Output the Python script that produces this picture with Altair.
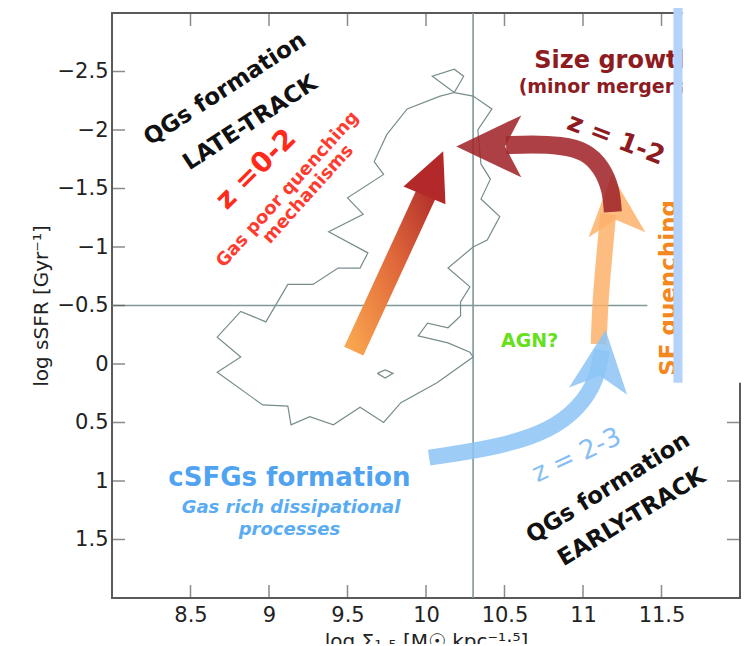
import altair as alt
import pandas as pd

# ---------------- axes ----------------
x_domain = [8, 12]
y_domain = [-3, 2]
x_ticks = [8.5, 9, 9.5, 10, 10.5, 11, 11.5]
y_ticks = [-2.5, -2, -1.5, -1, -0.5, 0, 0.5, 1, 1.5]

# ---------------- contour of the galaxy distribution ----------------
contour_x = [10.18, 10.30, 10.42, 10.33, 10.35, 10.41, 10.35, 10.47, 10.39, 10.30,
             10.14, 10.28, 10.22, 10.22, 10.14, 10.01, 9.95, 10.14, 10.28, 10.30,
             10.07, 9.84, 9.73, 9.58, 9.41, 9.26, 9.14, 9.12, 8.96, 8.67,
             8.82, 8.67, 8.82, 8.98, 9.12, 9.28, 9.44, 9.58, 9.63, 9.38,
             9.60, 9.50, 9.73, 9.67, 9.75, 9.88, 10.09, 10.18, 10.24, 10.18,
             10.04, 10.18]
contour_y = [-2.32, -2.29, -2.18, -2.00, -1.71, -1.58, -1.41, -1.26, -1.06, -1.00,
             -0.82, -0.66, -0.53, -0.41, -0.31, -0.35, -0.24, -0.18, -0.10, -0.06,
             0.16, 0.33, 0.50, 0.37, 0.52, 0.45, 0.52, 0.36, 0.35, 0.07,
             -0.06, -0.23, -0.45, -0.36, -0.68, -0.68, -0.82, -0.82, -0.95, -1.13,
             -1.28, -1.42, -1.62, -1.73, -1.96, -2.18, -2.29, -2.32, -2.46, -2.52,
             -2.46, -2.32]
island_x = [9.69, 9.74, 9.79, 9.74, 9.69]
island_y = [0.08, 0.05, 0.08, 0.12, 0.08]

# ---------------- reference lines ----------------
vline_x = [10.3]
hline_y = [-0.5]
hline_x = [8.0, 11.41]

# ---------------- arrows ----------------
# late-track (straight, orange -> red)
arrow_a_x = [9.54, 10.02]
arrow_a_y = [-0.11, -1.51]
head_a = [10.05, -1.63]
# size growth (dark red, curved)
arrow_b_x = [11.19, 11.18, 11.12, 11.02, 10.86, 10.67, 10.51]
arrow_b_y = [-1.30, -1.49, -1.68, -1.82, -1.87, -1.88, -1.87]
head_b = [10.40, -1.86]
# SF quenching (light orange)
arrow_c_x = [11.10, 11.11, 11.14, 11.16]
arrow_c_y = [-0.17, -0.55, -0.98, -1.28]
head_c = [11.20, -1.36]
# cSFG formation (light blue, curved)
arrow_d_x = [10.02, 10.47, 10.79, 10.98, 11.09, 11.12]
arrow_d_y = [0.80, 0.71, 0.57, 0.37, 0.13, -0.12]
head_d = [11.12, -0.03]

# ---------------- annotations ----------------
ann_text = ["QGs formation", "LATE-TRACK", "z =0-2", "Gas poor quenching", "mechanisms",
            "Size growth", "(minor mergers)", "z = 1-2", "SF quenching", "AGN?",
            "cSFGs formation", "Gas rich dissipational", "processes", "z = 2-3",
            "QGs formation", "EARLY-TRACK"]
ann_x = [8.72, 8.88, 8.92, 9.12, 9.25,
         10.69, 10.59, 11.21, 11.595, 10.66,
         9.13, 9.14, 9.13, 10.96,
         11.16, 11.31]
ann_y = [-2.35, -2.06, -1.66, -1.49, -1.45,
         -2.53, -2.32, -1.92, -0.65, -0.20,
         1.04, 1.27, 1.46, 0.78,
         1.06, 1.31]

# overlay (covering panel at the top right)
overlay_bar_x = [11.576, 11.634]
overlay_box_x = [11.634, 12.10]
overlay_y = [-3.10, 0.16]

# ================= build chart =================
W, H = 628, 585
xs = alt.Scale(domain=x_domain, nice=False, zero=False)
ys = alt.Scale(domain=y_domain, nice=False, zero=False, reverse=True)
FONT = "DejaVu Sans"

contour_df = pd.DataFrame({
    "x": contour_x + island_x,
    "y": contour_y + island_y,
    "i": list(range(len(contour_x))) + list(range(len(island_x))),
    "g": ["main"] * len(contour_x) + ["island"] * len(island_x),
})

base_axes = alt.Chart(pd.DataFrame({"x": x_domain, "y": y_domain})).mark_point(opacity=0).encode(
    x=alt.X("x:Q", scale=xs, axis=alt.Axis(
        values=x_ticks, format="~g", grid=False, ticks=False, tickSize=0, domain=False,
        labelFont=FONT, labelFontSize=21, labelColor="#222", labelPadding=6,
        title="log Σ₁.₅ [M☉ kpc⁻¹·⁵]", titleFont=FONT, titleFontSize=20,
        titleFontWeight="normal", titleColor="#222", titlePadding=6)),
    y=alt.Y("y:Q", scale=ys, axis=alt.Axis(
        values=y_ticks, format="~g", grid=False, ticks=False, tickSize=0, domain=False,
        labelFont=FONT, labelFontSize=21, labelColor="#222", labelPadding=4,
        title="log sSFR [Gyr⁻¹]", titleFont=FONT, titleFontSize=20,
        titleFontWeight="normal", titleColor="#222", titlePadding=6)),
)

line_col = "#7f9898"
vline = alt.Chart(pd.DataFrame({"x": vline_x, "y": [y_domain[0]], "y2": [y_domain[1]]})).mark_rule(
    color=line_col, strokeWidth=1.6).encode(
    x=alt.X("x:Q", scale=xs), y=alt.Y("y:Q", scale=ys), y2="y2:Q")
hline = alt.Chart(pd.DataFrame({"y": hline_y, "x": [hline_x[0]], "x2": [hline_x[1]]})).mark_rule(
    color=line_col, strokeWidth=1.6).encode(
    y=alt.Y("y:Q", scale=ys), x=alt.X("x:Q", scale=xs), x2="x2:Q")

contour = alt.Chart(contour_df).mark_line(color="#788c8c", strokeWidth=1.2).encode(
    x=alt.X("x:Q", scale=xs), y=alt.Y("y:Q", scale=ys),
    detail="g:N", order=alt.Order("i:Q"))

HEAD = "M0,-1L0.95,1L0,0.5L-0.95,1Z"
TRI = "M0,-1L0.95,1L-0.95,1Z"


def shaft(xv, yv, width, opacity=1.0, color=None, stroke=None, interp="basis"):
    df = pd.DataFrame({"x": xv, "y": yv, "i": list(range(len(xv)))})
    kw = dict(strokeWidth=width, strokeCap="butt", opacity=opacity, interpolate=interp)
    if stroke is not None:
        kw["stroke"] = stroke
    else:
        kw["color"] = color
    return alt.Chart(df).mark_line(**kw).encode(
        x=alt.X("x:Q", scale=xs), y=alt.Y("y:Q", scale=ys), order=alt.Order("i:Q"))


def head(pt, shape, size, angle, color, opacity=1.0):
    df = pd.DataFrame({"x": [pt[0]], "y": [pt[1]]})
    return alt.Chart(df).mark_point(shape=shape, size=size, angle=angle, filled=True,
                                    color=color, opacity=opacity, strokeWidth=0).encode(
        x=alt.X("x:Q", scale=xs), y=alt.Y("y:Q", scale=ys))


grad_a = alt.Gradient(
    gradient="linear",
    stops=[alt.GradientStop(color="#f9a44e", offset=0),
           alt.GradientStop(color="#e0683a", offset=0.55),
           alt.GradientStop(color="#b3302c", offset=1)],
    x1=0, y1=1, x2=1, y2=0)

arrow_d = shaft(arrow_d_x, arrow_d_y, 16, 0.85, color="#8cc4f6")
arrow_c = shaft(arrow_c_x, arrow_c_y, 16, 0.85, color="#fdb26b")
head_c_l = head(head_c, HEAD, 3600, 355, "#fdb26b", 0.85)
head_d_l = head(head_d, HEAD, 3800, 7, "#8cc4f6", 0.85)
arrow_b = shaft(arrow_b_x, arrow_b_y, 18, 0.88, color="#a0262a")
head_b_l = head(head_b, HEAD, 4225, 270, "#a0262a", 0.88)
arrow_a = shaft(arrow_a_x, arrow_a_y, 21, 1.0, stroke=grad_a, interp="linear")
head_a_l = head(head_a, TRI, 2304, 23, "#b3292a", 1.0)

# annotation styles: (size, angle, color, weight, style, align, baseline)
ann_style = [
    (23, 327, "#111111", "bold", "normal", "center", "middle"),
    (23, 327, "#111111", "bold", "normal", "center", "middle"),
    (28, 315, "#ff2a1a", "bold", "normal", "center", "middle"),
    (18, 312, "#ff3b30", "bold", "normal", "center", "middle"),
    (18, 312, "#ff3b30", "bold", "normal", "center", "middle"),
    (24, 0, "#8e1b1f", "bold", "normal", "left", "alphabetic"),
    (19, 0, "#8e1b1f", "bold", "normal", "left", "alphabetic"),
    (26, 21, "#8e1b1f", "bold", "normal", "center", "middle"),
    (23, 270, "#f5871f", "bold", "normal", "center", "alphabetic"),
    (19, 0, "#66e01c", "bold", "normal", "center", "middle"),
    (26, 0, "#4fa3f0", "bold", "normal", "center", "alphabetic"),
    (18, 0, "#5aacf2", "bold", "italic", "center", "alphabetic"),
    (18, 0, "#5aacf2", "bold", "italic", "center", "alphabetic"),
    (26, 335, "#86bdf2", "normal", "normal", "center", "middle"),
    (23, 328, "#111111", "bold", "normal", "center", "middle"),
    (23, 329, "#111111", "bold", "normal", "center", "middle"),
]

texts = []
for t, xv, yv, st in zip(ann_text, ann_x, ann_y, ann_style):
    size, ang, col, wt, fs, al, bl = st
    df = pd.DataFrame({"x": [xv], "y": [yv], "t": [t]})
    texts.append(alt.Chart(df).mark_text(
        font=FONT, fontSize=size, angle=ang, color=col, fontWeight=wt, fontStyle=fs,
        align=al, baseline=bl).encode(
        x=alt.X("x:Q", scale=xs), y=alt.Y("y:Q", scale=ys), text="t:N"))

# inward ticks on all four sides
tick_col = "#5a5a5a"
xt_df = pd.DataFrame({"v": x_ticks})
yt_df = pd.DataFrame({"v": y_ticks})
tick_top = alt.Chart(xt_df).mark_tick(orient="vertical", size=13, thickness=1.5, color=tick_col).encode(
    x=alt.X("v:Q", scale=xs), y=alt.value(6.5))
tick_bot = alt.Chart(xt_df).mark_tick(orient="vertical", size=13, thickness=1.5, color=tick_col).encode(
    x=alt.X("v:Q", scale=xs), y=alt.value(H - 6.5))
tick_left = alt.Chart(yt_df).mark_tick(orient="horizontal", size=13, thickness=1.5, color=tick_col).encode(
    y=alt.Y("v:Q", scale=ys), x=alt.value(6.5))
tick_right = alt.Chart(yt_df).mark_tick(orient="horizontal", size=13, thickness=1.5, color=tick_col).encode(
    y=alt.Y("v:Q", scale=ys), x=alt.value(W - 6.5))

# overlay panel
box = alt.Chart(pd.DataFrame({"x": [overlay_box_x[0]], "x2": [overlay_box_x[1]],
                              "y": [overlay_y[0]], "y2": [overlay_y[1]]})).mark_rect(color="white").encode(
    x=alt.X("x:Q", scale=xs), x2="x2:Q", y=alt.Y("y:Q", scale=ys), y2="y2:Q")
bar = alt.Chart(pd.DataFrame({"x": [overlay_bar_x[0]], "x2": [overlay_bar_x[1]],
                              "y": [overlay_y[0]], "y2": [overlay_y[1]]})).mark_rect(color="#b4d2fa").encode(
    x=alt.X("x:Q", scale=xs), x2="x2:Q", y=alt.Y("y:Q", scale=ys), y2="y2:Q")

chart = alt.layer(
    base_axes, vline, hline, contour,
    arrow_c, head_c_l, arrow_d, head_d_l, arrow_b, head_b_l, arrow_a, head_a_l,
    *texts,
    tick_top, tick_bot, tick_left, tick_right,
    box, bar,
).properties(
    width=W, height=H,
    padding={"left": 104, "top": 5, "right": 4, "bottom": 46},
    autosize=alt.AutoSizeParams(type="none"),
    background="white",
).configure_view(stroke="#5a5a5a", strokeWidth=2)

chart.save("out.html", embed_options={"renderer": "svg", "actions": False})
